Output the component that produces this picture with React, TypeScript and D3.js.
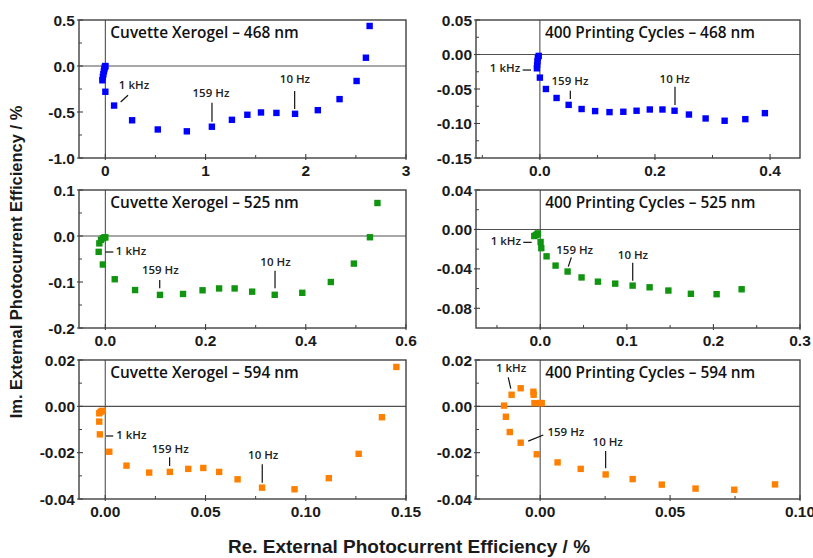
import React from 'react';
import * as d3 from 'd3';

type Pt = [number, number];

// ---------- data ----------
const titles = [
  'Cuvette Xerogel – 468 nm',
  '400 Printing Cycles – 468 nm',
  'Cuvette Xerogel – 525 nm',
  '400 Printing Cycles – 525 nm',
  'Cuvette Xerogel – 594 nm',
  '400 Printing Cycles – 594 nm',
];
const seriesColors = ['#0000ff', '#0000ff', '#119511', '#119511', '#ff8000', '#ff8000'];

const cuvette468: Pt[] = [
  [-0.03, -0.155], [-0.025, -0.12], [-0.02, -0.09], [-0.015, -0.06], [-0.01, -0.035],
  [-0.006, -0.015], [-0.002, -0.005], [0.0, 0.0], [0.0, -0.28], [0.087, -0.43],
  [0.267, -0.59], [0.523, -0.69], [0.813, -0.71], [1.063, -0.66], [1.263, -0.585],
  [1.417, -0.53], [1.553, -0.505], [1.707, -0.51], [1.893, -0.52], [2.12, -0.48],
  [2.337, -0.36], [2.507, -0.163], [2.6, 0.09], [2.637, 0.435],
];
const printed468: Pt[] = [
  [-0.0052, -0.02], [-0.0048, -0.015], [-0.0042, -0.01], [-0.0035, -0.005], [-0.002, -0.002],
  [0.0, -0.0335], [0.0105, -0.05], [0.029, -0.063], [0.05, -0.073], [0.0725, -0.079],
  [0.096, -0.082], [0.121, -0.0835], [0.145, -0.083], [0.168, -0.0815], [0.191, -0.0797],
  [0.213, -0.0797], [0.234, -0.0815], [0.259, -0.087], [0.288, -0.0927], [0.321, -0.096],
  [0.357, -0.0937], [0.391, -0.085],
];
const cuvette525: Pt[] = [
  [-0.0133, -0.0345], [-0.012, -0.016], [-0.0087, -0.0085], [-0.005, -0.005], [-0.002, -0.003],
  [0.0, -0.003], [-0.005, -0.062], [0.0187, -0.094], [0.0593, -0.1175], [0.109, -0.128],
  [0.155, -0.126], [0.194, -0.118], [0.227, -0.114], [0.258, -0.114], [0.293, -0.121],
  [0.338, -0.1278], [0.393, -0.1235], [0.45, -0.1], [0.496, -0.06], [0.528, -0.0027],
  [0.543, 0.0717],
];
const printed525: Pt[] = [
  [-0.0069, -0.0067], [-0.005, -0.0057], [-0.0035, -0.005], [-0.0027, -0.004],
  [0.0004, -0.0127], [0.0012, -0.019], [0.0073, -0.0273], [0.0177, -0.0367], [0.0316, -0.0427],
  [0.0477, -0.0487], [0.0666, -0.053], [0.0866, -0.055], [0.1067, -0.057], [0.1263, -0.0587],
  [0.148, -0.062], [0.174, -0.0653], [0.2037, -0.0657], [0.2326, -0.0607],
];
const cuvette594: Pt[] = [
  [-0.003, -0.0066], [-0.003, -0.003], [-0.0024, -0.0024], [-0.0017, -0.002], [-0.0013, -0.002],
  [-0.0027, -0.0121], [0.002, -0.0196], [0.0106, -0.0256], [0.0219, -0.0286], [0.0322, -0.0283],
  [0.0414, -0.027], [0.0489, -0.0266], [0.0568, -0.0283], [0.066, -0.0315], [0.0782, -0.0351],
  [0.0944, -0.0358], [0.1115, -0.031], [0.1264, -0.0205], [0.138, -0.0047], [0.1452, 0.017],
];
const printed594: Pt[] = [
  [-0.0139, 0.0003], [-0.0132, -0.0045], [-0.0117, -0.0111], [-0.011, 0.005], [-0.0075, 0.0078],
  [-0.0075, -0.0157], [-0.0026, 0.0063], [-0.0025, 0.005], [-0.0022, 0.0014], [0.0, 0.0014],
  [0.0006, 0.0014], [-0.0013, -0.0207], [0.0067, -0.0242], [0.0156, -0.027], [0.0252, -0.0294],
  [0.0356, -0.0314], [0.0468, -0.0338], [0.0598, -0.0355], [0.0747, -0.036], [0.0904, -0.0337],
];
const series = [cuvette468, printed468, cuvette525, printed525, cuvette594, printed594];

const xDomains: Pt[] = [[-0.263, 3], [-0.111, 0.452], [-0.0526, 0.6], [-0.0742, 0.3], [-0.0131, 0.15], [-0.0247, 0.1]];
const yDomains: Pt[] = [[-1, 0.5], [-0.15, 0.05], [-0.2, 0.1], [-0.1, 0.04], [-0.04, 0.02], [-0.04, 0.02]];

const xTicks = [[0, 1, 2, 3], [0, 0.2, 0.4], [0, 0.2, 0.4, 0.6], [0, 0.1, 0.2, 0.3], [0, 0.05, 0.1, 0.15], [0, 0.05, 0.1]];
const xTickLabels = [['0', '1', '2', '3'], ['0.0', '0.2', '0.4'], ['0.0', '0.2', '0.4', '0.6'], ['0.0', '0.1', '0.2', '0.3'], ['0.00', '0.05', '0.10', '0.15'], ['0.00', '0.05', '0.10']];
const xMinor = [[0.5, 1.5, 2.5], [-0.1, 0.1, 0.3], [0.1, 0.3, 0.5], [-0.05, 0.05, 0.15, 0.25], [0.025, 0.075, 0.125], [-0.025, 0.025, 0.075]];
const yTicks = [[-1, -0.5, 0, 0.5], [-0.15, -0.1, -0.05, 0, 0.05], [-0.2, -0.1, 0, 0.1], [-0.08, -0.04, 0, 0.04], [-0.04, -0.02, 0, 0.02], [-0.04, -0.02, 0, 0.02]];
const yTickLabels = [['-1.0', '-0.5', '0.0', '0.5'], ['-0.15', '-0.10', '-0.05', '0.00', '0.05'], ['-0.2', '-0.1', '0.0', '0.1'], ['-0.08', '-0.04', '0.00', '0.04'], ['-0.04', '-0.02', '0.00', '0.02'], ['-0.04', '-0.02', '0.00', '0.02']];
const yMinor = [[-0.75, -0.25, 0.25], [-0.125, -0.075, -0.025, 0.025], [-0.15, -0.05, 0.05], [-0.06, -0.02, 0.02], [-0.03, -0.01, 0.01], [-0.03, -0.01, 0.01]];

// annotations: label, text anchor (data units), leader line (data units)
type Ann = [string, number, number, number, number, number, number];
const annotations: Ann[][] = [
  [['1 kHz', 0.286, -0.25, 0.153, -0.391, 0.226, -0.318], ['159 Hz', 1.054, -0.342, 1.064, -0.399, 1.064, -0.605], ['10 Hz', 1.892, -0.19, 1.889, -0.272, 1.889, -0.467]],
  [['1 kHz', -0.0606, -0.0254, -0.0299, -0.0225, -0.0154, -0.0225], ['159 Hz', 0.0523, -0.0449, 0.0529, -0.0525, 0.0529, -0.0645], ['10 Hz', 0.2343, -0.0413, 0.2348, -0.0467, 0.2348, -0.0732]],
  [['1 kHz', 0.0512, -0.0413, 0.0, -0.0348, 0.016, -0.0348], ['159 Hz', 0.1097, -0.0826, 0.1085, -0.0957, 0.1085, -0.1137], ['10 Hz', 0.3396, -0.0646, 0.3386, -0.0754, 0.3386, -0.1137]],
  [['1 kHz', -0.0398, -0.0163, -0.0196, -0.0131, -0.0099, -0.0131], ['159 Hz', 0.0398, -0.0249, 0.0359, -0.0283, 0.0324, -0.0378], ['10 Hz', 0.1071, -0.03, 0.1068, -0.0337, 0.1068, -0.052]],
  [['1 kHz', 0.013, -0.0141, 0.0004, -0.0128, 0.004, -0.0128], ['159 Hz', 0.0324, -0.02, 0.0321, -0.022, 0.0321, -0.0258], ['10 Hz', 0.0788, -0.0229, 0.0783, -0.025, 0.0783, -0.033]],
  [['1 kHz', -0.0112, 0.0149, -0.0123, 0.0125, -0.0113, 0.0076], ['159 Hz', 0.0099, -0.0128, -0.0046, -0.015, 0.0012, -0.0124], ['10 Hz', 0.026, -0.0171, 0.0252, -0.0193, 0.0252, -0.0267]],
];

const xAxisTitle = 'Re. External Photocurrent Efficiency / %';
const yAxisTitle = 'Im. External Photocurrent Efficiency / %';

// ---------- layout ----------
const W = 813;
const H = 558;
const colX: Pt[] = [[79, 406], [476, 800]];
const rowY: Pt[] = [[20, 158], [190, 328], [360, 499]];
const frameColor = '#404040';
const tickFont = '"Liberation Sans", Arial, sans-serif';
const titleFont = '"Open Sans", sans-serif';

function Panel({ i }: { i: number }) {
  const [x0, x1] = colX[i % 2];
  const [yTop, yBot] = rowY[Math.floor(i / 2)];
  const x = d3.scaleLinear().domain(xDomains[i]).range([x0, x1]);
  const y = d3.scaleLinear().domain(yDomains[i]).range([yBot, yTop]);
  const ms = 6.4;
  return (
    <g>
      {/* zero lines */}
      <line x1={x0} x2={x1} y1={y(0)} y2={y(0)} stroke="#505050" strokeWidth={1.1} />
      <line x1={x(0)} x2={x(0)} y1={yTop} y2={yBot} stroke="#505050" strokeWidth={1.1} />
      {/* points */}
      {series[i].map((d, k) => (
        <rect key={k} x={x(d[0]) - ms / 2} y={y(d[1]) - ms / 2} width={ms} height={ms} fill={seriesColors[i]} />
      ))}
      {/* frame */}
      <rect x={x0} y={yTop} width={x1 - x0} height={yBot - yTop} fill="none" stroke={frameColor} strokeWidth={1.4} />
      {/* x ticks */}
      {xTicks[i].map((t, k) => (
        <g key={'xt' + k}>
          <line x1={x(t)} x2={x(t)} y1={yBot + 2} y2={yBot - 4} stroke={frameColor} strokeWidth={1.1} />
          <text x={x(t)} y={yBot + 18} textAnchor="middle" fontFamily={tickFont} fontWeight="bold" fontSize={15.5} fill="#1a1a1a">
            {xTickLabels[i][k]}
          </text>
        </g>
      ))}
      {xMinor[i].map((t, k) => (
        <line key={'xm' + k} x1={x(t)} x2={x(t)} y1={yBot} y2={yBot - 3} stroke={frameColor} strokeWidth={1} />
      ))}
      {/* y ticks */}
      {yTicks[i].map((t, k) => (
        <g key={'yt' + k}>
          <line x1={x0 - 2} x2={x0 + 4} y1={y(t)} y2={y(t)} stroke={frameColor} strokeWidth={1.1} />
          <text x={x0 - 4} y={y(t)} dy="0.36em" textAnchor="end" fontFamily={tickFont} fontWeight="bold" fontSize={15.5} fill="#1a1a1a">
            {yTickLabels[i][k]}
          </text>
        </g>
      ))}
      {yMinor[i].map((t, k) => (
        <line key={'ym' + k} x1={x0} x2={x0 + 3} y1={y(t)} y2={y(t)} stroke={frameColor} strokeWidth={1} />
      ))}
      {/* title */}
      <text x={x(0) + 5} y={yTop + 18} fontFamily={titleFont} fontWeight={600} fontSize={15.4} fill="#111">
        {titles[i]}
      </text>
      {/* annotations */}
      {annotations[i].map((a, k) => (
        <g key={'a' + k}>
          <text x={x(a[1])} y={y(a[2])} textAnchor="middle" fontFamily={titleFont} fontWeight={600} fontSize={11.5} fill="#222">
            {a[0]}
          </text>
          <line x1={x(a[3])} y1={y(a[4])} x2={x(a[5])} y2={y(a[6])} stroke="#111" strokeWidth={1.2} />
        </g>
      ))}
    </g>
  );
}

export default function App() {
  return (
    <svg width={W} height={H} style={{ position: 'absolute', left: 0, top: 0, background: '#fff' }}>
      <rect x={0} y={0} width={W} height={H} fill="#fff" />
      {titles.map((_, i) => (
        <Panel key={i} i={i} />
      ))}
      <text x={409} y={553} textAnchor="middle" fontFamily={tickFont} fontWeight="bold" fontSize={19} fill="#1a1a1a">
        {xAxisTitle}
      </text>
      <text transform="translate(22,262) rotate(-90)" textAnchor="middle" fontFamily={tickFont} fontWeight="bold" fontSize={16.5} fill="#1a1a1a">
        {yAxisTitle}
      </text>
    </svg>
  );
}
